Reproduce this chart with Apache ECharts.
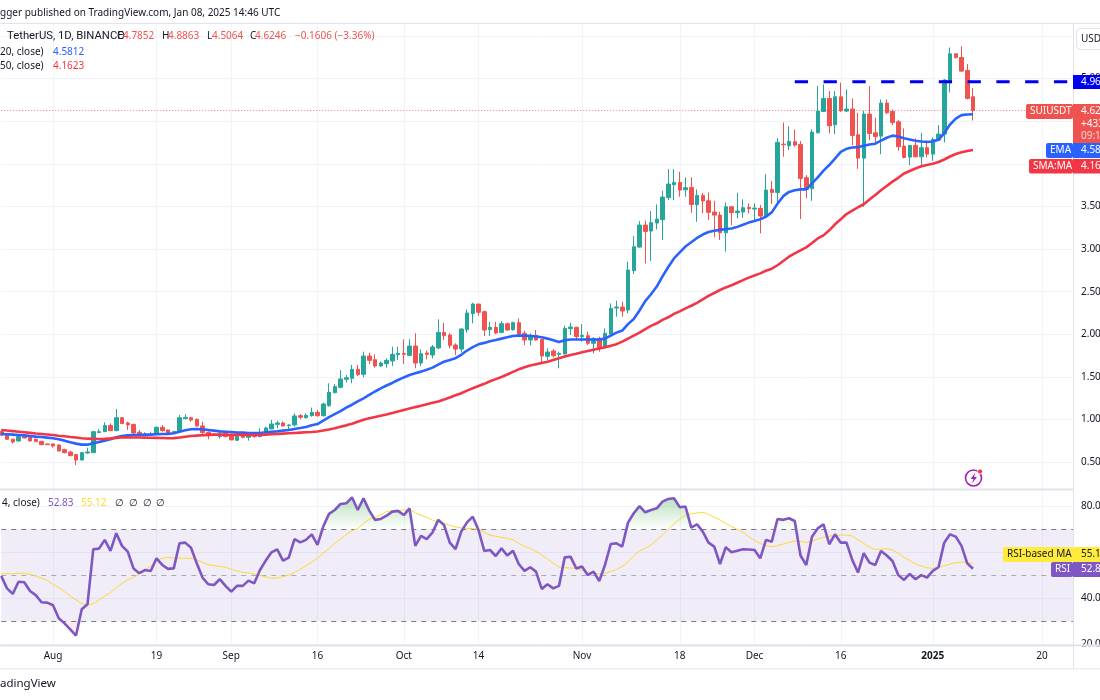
<!DOCTYPE html>
<html>
<head>
<meta charset="utf-8">
<title>SUIUSDT daily</title>
<style>html,body{margin:0;padding:0;background:#fff}#chart{width:1100px;height:700px}</style>
<script src="https://cdn.jsdelivr.net/npm/echarts@6/dist/echarts.min.js"></script>
</head>
<body>
<div id="chart"></div>
<script>
// Daily candles from 23 Jul 2024 to 8 Jan 2025
const opens = [
  .859,.820,.770,.750,.801,.793,.77,.746,.715,.715,
  .703,.648,.621,.59,.527,.609,.613,.848,.859,.93,
  .871,1.023,.961,.945,.852,.813,.828,.828,.91,.879,
  .848,.859,1.012,1.023,1.004,.926,.852,.828,.801,.84,
  .809,.758,.816,.793,.82,.801,.84,.891,.945,.961,
  .93,.938,1.047,1.023,1.047,1.086,1.047,1.164,1.316,1.379,
  1.473,1.484,1.59,1.531,1.746,1.703,1.629,1.656,1.688,1.762,
  1.777,1.754,1.863,1.664,1.781,1.758,1.84,2.023,1.992,1.875,
  1.828,2.055,2.242,2.355,2.266,2.055,2.082,2.023,2.125,2.055,
  2.137,2.012,1.934,1.988,1.941,1.742,1.805,1.766,1.77,2.066,
  2.082,1.973,1.984,1.895,1.953,1.844,2.004,2.309,2.32,2.285,
  2.746,3.023,3.281,3.211,3.305,3.344,3.602,3.754,3.781,3.695,
  3.723,3.52,3.629,3.566,3.434,3.398,3.191,3.496,3.426,3.434,
  3.488,3.469,3.477,3.387,3.699,3.664,4.23,4.211,4.258,4.227,
  3.836,3.707,4.363,4.613,4.766,4.457,4.785,4.617,4.641,4.34,
  4.066,4.582,4.363,4.324,4.711,4.613,4.492,4.207,4.078,4.215,
  4.082,4.188,4.113,4.277,4.348,4.949,5.289,5.246,5.094,4.7852
];
const closes = [
  .820,.770,.738,.801,.785,.75,.742,.707,.707,.691,
  .633,.613,.578,.527,.613,.621,.859,.859,.93,.871,
  1.023,.953,.938,.844,.82,.832,.82,.91,.871,.84,
  .859,1.023,1.027,.996,.926,.848,.813,.816,.832,.801,
  .762,.801,.793,.816,.801,.848,.902,.949,.961,.926,
  .938,1.043,1.027,1.051,1.086,1.047,1.184,1.32,1.387,1.477,
  1.492,1.59,1.527,1.746,1.695,1.629,1.664,1.695,1.766,1.777,
  1.766,1.863,1.664,1.773,1.766,1.852,2.023,1.984,1.871,1.828,
  2.063,2.25,2.355,2.258,2.051,2.082,2.016,2.125,2.051,2.137,
  2.0,1.934,1.988,1.934,1.746,1.793,1.75,1.777,2.07,2.086,
  1.973,1.988,1.895,1.953,1.836,2.012,2.305,2.32,2.273,2.754,
  3.027,3.281,3.207,3.309,3.352,3.609,3.762,3.781,3.691,3.719,
  3.523,3.629,3.563,3.43,3.398,3.191,3.496,3.426,3.445,3.484,
  3.473,3.48,3.387,3.691,3.664,4.25,4.223,4.262,4.219,3.828,
  3.699,4.371,4.617,4.766,4.445,4.785,4.621,4.641,4.332,4.066,
  4.582,4.355,4.32,4.711,4.598,4.484,4.199,4.074,4.215,4.082,
  4.188,4.113,4.285,4.348,4.98,5.289,5.246,5.086,4.766,4.6246
];
const highs = [
  .879,.840,.775,.82,.81,.80,.78,.75,.72,.72,
  .71,.66,.637,.60,.621,.672,.867,.887,.969,.957,
  1.125,1.03,.977,.95,.879,.852,.859,.92,.938,.885,
  .87,1.055,1.063,1.035,1.016,.977,.86,.835,.859,.871,
  .84,.805,.84,.84,.84,.898,.918,.996,.988,.98,
  .945,1.074,1.066,1.074,1.141,1.113,1.199,1.426,1.418,1.582,
  1.523,1.641,1.641,1.797,1.785,1.766,1.68,1.719,1.855,1.855,
  1.941,1.941,2.012,1.824,1.809,1.875,2.176,2.137,2.012,1.895,
  2.07,2.293,2.371,2.36,2.277,2.148,2.148,2.156,2.137,2.148,
  2.188,2.043,2.012,2.051,1.95,1.836,1.828,1.797,2.102,2.137,
  2.09,2.121,2.031,1.965,1.973,2.07,2.363,2.395,2.383,2.852,
  3.152,3.328,3.332,3.445,3.523,3.684,3.938,3.938,3.906,3.84,
  3.84,3.699,3.66,3.664,3.566,3.438,3.547,3.504,3.66,3.582,
  3.535,3.535,3.516,3.879,3.797,4.30,4.484,4.441,4.402,4.266,
  3.867,4.402,4.91,4.93,4.852,4.852,4.953,4.871,4.766,4.598,
  4.621,4.91,4.539,4.754,4.754,4.637,4.512,4.414,4.219,4.297,
  4.363,4.277,4.309,4.453,4.992,5.363,5.293,5.379,5.168,4.8863
];
const lows = [
  .809,.762,.719,.742,.78,.745,.74,.70,.705,.672,
  .63,.605,.57,.469,.52,.60,.61,.845,.855,.87,
  .865,.95,.879,.828,.813,.81,.816,.825,.859,.838,
  .845,.852,1.004,.977,.918,.832,.77,.81,.777,.793,
  .76,.755,.781,.754,.789,.793,.838,.887,.898,.918,
  .891,.918,1.004,1.012,1.035,1.035,1.035,1.152,1.309,1.367,
  1.434,1.426,1.512,1.496,1.652,1.609,1.621,1.609,1.629,1.699,
  1.652,1.746,1.602,1.629,1.707,1.719,1.828,1.934,1.836,1.758,
  1.789,2.02,2.129,2.219,1.98,1.98,2.004,2.012,2.043,2.043,
  1.992,1.875,1.871,1.926,1.66,1.699,1.73,1.602,1.765,1.992,
  1.941,1.914,1.875,1.777,1.797,1.836,1.992,2.207,2.207,2.246,
  2.707,3.016,2.832,2.859,3.23,3.105,3.574,3.574,3.613,3.613,
  3.426,3.32,3.418,3.34,3.137,3.105,2.969,3.281,3.359,3.367,
  3.418,3.34,3.184,3.359,3.527,3.527,4.082,4.16,4.199,3.352,
  3.594,3.566,4.355,4.609,4.355,4.348,4.609,4.609,4.219,3.941,
  3.496,4.277,4.219,4.113,4.582,4.453,4.152,4.063,3.984,4.074,
  3.957,4.074,4.035,4.27,4.25,4.836,5.234,5.078,4.754,4.5064
];
// Moving averages on the close
const ema20 = [
  .832,.828,.824,.82,.816,.809,.801,.797,.789,.781,
  .77,.754,.734,.719,.707,.707,.723,.738,.754,.77,
  .793,.809,.816,.82,.82,.824,.824,.828,.832,.832,
  .84,.859,.875,.887,.891,.887,.879,.871,.863,.859,
  .855,.848,.848,.844,.844,.844,.852,.859,.863,.871,
  .879,.891,.902,.914,.934,.949,.988,1.03,1.065,1.10,
  1.14,1.175,1.215,1.25,1.29,1.33,1.367,1.40,1.43,1.465,
  1.495,1.523,1.545,1.563,1.585,1.61,1.645,1.68,1.70,1.72,
  1.76,1.81,1.85,1.883,1.90,1.92,1.934,1.95,1.965,1.98,
  1.985,1.985,1.98,1.975,1.965,1.95,1.93,1.91,1.93,1.94,
  1.94,1.94,1.94,1.94,1.94,1.95,1.985,2.02,2.045,2.12,
  2.18,2.28,2.39,2.47,2.56,2.68,2.79,2.89,2.96,3.03,
  3.08,3.13,3.17,3.20,3.215,3.225,3.235,3.24,3.26,3.285,
  3.31,3.33,3.35,3.38,3.43,3.53,3.62,3.67,3.69,3.70,
  3.70,3.77,3.84,3.92,3.985,4.06,4.14,4.175,4.19,4.195,
  4.21,4.225,4.235,4.27,4.305,4.33,4.32,4.30,4.285,4.27,
  4.26,4.255,4.26,4.28,4.36,4.46,4.53,4.57,4.578,4.5812
];
const sma50 = [
  .879,.872,.866,.859,.852,.845,.838,.832,.826,.82,
  .812,.805,.797,.79,.782,.777,.775,.773,.775,.78,
  .786,.793,.792,.791,.79,.789,.787,.786,.784,.782,
  .783,.791,.80,.808,.813,.817,.821,.824,.824,.823,
  .822,.822,.821,.821,.82,.82,.824,.828,.832,.836,
  .84,.844,.848,.852,.856,.862,.872,.885,.90,.917,
  .933,.952,.975,.998,1.016,1.03,1.045,1.06,1.078,1.095,
  1.113,1.13,1.147,1.163,1.18,1.197,1.214,1.235,1.26,1.285,
  1.31,1.34,1.368,1.395,1.42,1.45,1.475,1.50,1.53,1.56,
  1.59,1.615,1.635,1.65,1.665,1.68,1.70,1.72,1.74,1.758,
  1.773,1.79,1.805,1.82,1.835,1.85,1.865,1.885,1.915,1.95,
  1.985,2.02,2.06,2.10,2.13,2.17,2.20,2.24,2.27,2.305,
  2.335,2.37,2.41,2.45,2.485,2.52,2.55,2.575,2.605,2.635,
  2.665,2.69,2.715,2.745,2.77,2.81,2.86,2.91,2.95,2.985,
  3.02,3.07,3.125,3.16,3.22,3.29,3.35,3.41,3.45,3.49,
  3.525,3.58,3.635,3.69,3.74,3.79,3.835,3.885,3.915,3.945,
  3.97,3.985,4.00,4.02,4.05,4.085,4.115,4.135,4.15,4.1623
];
// Momentum pane
const rsi14 = [
  49.7,44.3,41.9,47.2,47.0,43.2,41.4,38.3,38.1,37.0,
  31.3,29.1,26.5,23.8,35.2,37.4,61.3,61.6,65.4,60.6,
  68.3,62.8,60.3,53.0,50.9,52.3,51.9,57.4,54.5,52.8,
  53.0,63.9,64.2,62.0,55.2,49.0,46.1,45.8,48.3,45.4,
  42.9,45.4,45.4,47.7,46.5,52.3,56.4,60.0,61.3,56.4,
  57.7,65.7,64.3,65.4,67.8,63.2,71.2,76.7,78.4,81.0,
  81.3,83.9,78.4,83.5,78.1,74.1,74.5,75.9,77.7,78.0,
  76.2,79.1,62.8,67.1,65.7,68.6,74.1,71.9,64.2,61.4,
  69.0,73.0,75.5,69.7,60.6,61.0,58.4,61.7,58.6,60.7,
  54.9,51.9,53.5,51.6,44.1,46.1,44.3,45.4,57.8,58.1,
  53.0,53.8,50.1,51.6,47.5,54.5,63.6,63.9,62.5,72.9,
  77.0,80.1,77.4,78.4,79.1,82.0,83.2,83.5,79.6,79.9,
  70.7,72.2,69.0,64.2,62.5,54.9,62.2,60.0,60.7,61.3,
  61.2,61.0,57.4,65.4,64.6,74.5,74.1,74.8,73.6,58.6,
  54.5,66.8,70.4,72.2,63.5,67.8,64.2,64.2,56.7,51.2,
  59.6,55.5,54.5,60.6,58.6,56.2,50.1,48.0,50.6,48.3,
  50.1,49.0,51.9,53.5,64.2,67.8,66.8,62.8,55.2,52.83
];
const rsiMa = [
  50.6,50.7,50.7,50.9,50.9,50.4,49.7,48.8,47.7,46.1,
  44.6,42.9,41.0,39.3,37.8,37.1,37.7,39.3,41.0,42.5,
  44.6,46.5,48.0,49.1,50.6,52.3,54.1,56.4,57.4,57.8,
  57.5,57.4,57.4,57.4,56.7,55.7,54.6,54.2,53.9,53.5,
  52.6,51.9,51.3,51.0,50.6,50.0,49.3,48.7,48.8,49.4,
  50.1,51.3,52.6,54.1,55.7,57.4,59.6,61.7,63.9,65.7,
  67.7,69.4,70.3,72.6,74.3,75.2,76.2,77.7,78.1,78.1,
  78.4,78.7,77.2,76.1,75.2,73.9,73.2,72.6,71.7,71.0,
  70.6,70.4,70.3,70.0,68.6,67.4,67.0,66.5,66.1,65.5,
  63.9,62.6,61.7,60.4,58.8,57.0,55.2,53.6,53.3,53.2,
  53.0,52.3,51.4,50.9,50.6,50.9,51.6,52.6,53.8,55.9,
  58.4,60.6,61.7,63.2,65.4,67.5,70.0,72.3,74.3,76.2,
  76.7,77.1,77.4,76.5,75.2,74.1,72.6,71.2,70.0,68.7,
  66.8,65.1,63.9,62.9,62.5,62.9,63.6,64.3,64.9,64.8,
  64.3,64.9,65.8,66.5,67.0,67.2,67.5,67.5,67.1,65.4,
  63.9,62.2,61.3,61.3,61.6,61.0,59.6,57.8,56.4,54.9,
  54.1,53.3,53.0,53.5,54.1,54.9,55.5,55.7,55.7,55.12
];
// Time scale
const firstDay = Date.UTC(2024, 6, 23);
const dayCount = 188;
const resistanceFromDate = '2024-12-08';
const resistancePrice = 4.96;
const lastClose = 4.6246;
const timeTicks = {
  '2024-08-01': 'Aug', '2024-08-19': '19', '2024-09-01': 'Sep', '2024-09-16': '16',
  '2024-10-01': 'Oct', '2024-10-14': '14', '2024-11-01': 'Nov', '2024-11-18': '18',
  '2024-12-01': 'Dec', '2024-12-16': '16', '2025-01-01': '2025', '2025-01-20': '20'
};

const categories = [];
for (let i = 0; i < dayCount; i++) {
  categories.push(new Date(firstDay + i * 86400000).toISOString().slice(0, 10));
}
const candles = opens.map((o, i) => [o, closes[i], lows[i], highs[i]]);
const isTick = (i) => categories[i] in timeTicks;
const resistanceLine = categories.map((d) => (d >= resistanceFromDate ? resistancePrice : null));
const closeLine = categories.map(() => lastClose);
const overbought = rsi14.map((v) => Math.max(v, 70));
const oversold = rsi14.map((v) => Math.min(v, 30));

const FONT = '"Noto Sans", Roboto, sans-serif';
const FONT_SIZE = 10;
const INK = '#131722';
const GRID = '#f0f3fa';
const RULE = '#e0e3eb';
const UP = '#26a69a';
const DOWN = '#ef5350';
const BLUE = '#2962ff';
const RED = '#f23645';
const PURPLE = '#7e57c2';
const YELLOW = '#ffeb3b';

const rect = (x, y, w, h, fill, extra) => ({
  type: 'rect', silent: true, z: (extra && extra.z) || 30,
  shape: { x, y, width: w, height: h, r: (extra && extra.r) || 0 },
  style: Object.assign({ fill }, extra && extra.style)
});
const text = (x, y, str, fill, extra) => ({
  type: 'text', silent: true, z: 40, x, y,
  style: Object.assign({ text: str, fill, font: FONT_SIZE + 'px ' + FONT, textVerticalAlign: 'middle' }, extra)
});

const chart = echarts.init(document.getElementById('chart'), null, { renderer: 'canvas' });

const graphics = [
  // mask for anything running past the panes, below the scale labels
  rect(1073, 0, 27, 700, '#fff', { z: 10 }),
  rect(0, 0, 1100, 23, '#fff', { z: 10 }),
  // pane rules
  rect(0, 23, 1100, 1, RULE),
  rect(0, 488.5, 1073, 2, RULE),
  rect(0, 644.5, 1100, 2, RULE),
  rect(0, 668, 1100, 1.5, '#eceef3'),
  rect(1073, 23, 1, 646, RULE),
  // header legend
  text(0, 13, 'gger published on TradingView.com, Jan 08, 2025 14:46 UTC', INK),
  text(7, 36, 'TetherUS, 1D, BINANCE', INK, { font: '11.3px Roboto, sans-serif' }),
  text(117, 36, 'O', INK), text(123, 36, '4.7852', DOWN),
  text(162, 36, 'H', INK), text(168, 36, '4.8863', DOWN),
  text(207, 36, 'L', INK), text(212, 36, '4.5064', DOWN),
  text(250, 36, 'C', INK), text(255, 36, '4.6246', DOWN),
  text(295, 36, '\u22120.1606 (\u22123.36%)', DOWN),
  text(0, 52, '20, close)', INK), text(53, 52, '4.5812', BLUE),
  text(0, 66, '50, close)', INK), text(53, 66, '4.1623', RED),
  // momentum legend
  text(2, 503, '4, close)', INK), text(48, 503, '52.83', PURPLE), text(81, 503, '55.12', '#fdd835'),
  text(115, 503, '\u2205', INK), text(129, 503, '\u2205', INK), text(143, 503, '\u2205', INK), text(156, 503, '\u2205', INK),
  text(0, 684, 'adingView', INK, { font: '11.5px ' + FONT }),
  // currency button
  rect(1076.5, 28.5, 40, 21, '#fff', { r: 4, style: { stroke: RULE, lineWidth: 1 } }),
  text(1081, 39, 'USD', INK),
  // price scale tags
  rect(1073, 75, 27, 14, '#0000f0'),
  text(1081, 82, '4.96', '#fff'),
  rect(1026, 104, 47, 15, DOWN, { r: 2 }),
  text(1030, 111.5, 'SUIUSDT', '#fff'),
  rect(1073, 104, 27, 39, DOWN),
  text(1081, 111.5, '4.62', '#fff'),
  text(1081, 124, '+433', '#fff'),
  text(1081, 136, '09:1', '#fff', { opacity: 0.75 }),
  rect(1046, 143, 27, 15, BLUE, { r: 2 }),
  text(1050, 150.5, 'EMA', '#fff'),
  rect(1073, 143, 27, 15, BLUE),
  text(1081, 150.5, '4.58', '#fff'),
  rect(1029, 159, 44, 14.5, RED, { r: 2 }),
  text(1033, 166, 'SMA:MA', '#fff'),
  rect(1073, 159, 27, 14.5, RED),
  text(1081, 166, '4.16', '#fff'),
  // momentum scale tags
  rect(1003, 547, 70, 15, YELLOW, { r: 2 }),
  text(1007, 554.5, 'RSI-based MA', INK),
  rect(1073, 547, 27, 15, YELLOW),
  text(1081, 554.5, '55.1', INK),
  rect(1051, 562, 22, 15, PURPLE, { r: 2 }),
  text(1055, 569.5, 'RSI', '#fff'),
  rect(1073, 562, 27, 15, PURPLE),
  text(1081, 569.5, '52.8', '#fff'),
  // bottom of the momentum scale
  rect(1074, 646.5, 26, 21, '#fff'),
  // ideas badge
  { type: 'circle', silent: true, z: 30, shape: { cx: 973.5, cy: 478, r: 8 }, style: { fill: 'none', stroke: '#9c27b0', lineWidth: 1.6 } },
  { type: 'polygon', silent: true, z: 31, shape: { points: [[975.5, 472.5], [970.5, 479], [973.5, 479], [972, 483.5], [977, 477], [974, 477]] }, style: { fill: '#9c27b0' } },
  { type: 'circle', silent: true, z: 32, shape: { cx: 980, cy: 471.5, r: 2.5 }, style: { fill: '#f23645', stroke: '#fff', lineWidth: 0.8 } }
];

// Each pane carries two value axes with one scale: the first draws gridlines under the marks,
// the second draws the labels above the scale's background.
const gridAxis = (g, min, max, interval) => ({
  type: 'value', gridIndex: g, position: 'right', min, max, interval, z: 0,
  axisLine: { show: false }, axisTick: { show: false }, axisLabel: { show: false },
  splitLine: { show: true, showMinLine: g === 1, showMaxLine: false, lineStyle: { color: GRID, width: 1 } }
});
const labelAxis = (g, min, max, interval) => ({
  type: 'value', gridIndex: g, position: 'right', min, max, interval, z: 20,
  axisLine: { show: false }, axisTick: { show: false }, splitLine: { show: false },
  axisLabel: {
    margin: 4.5, color: INK, fontSize: FONT_SIZE, fontFamily: FONT,
    formatter: (v) => {
      if (g === 0) return v > 0 && v < 6 ? v.toFixed(2) : '';
      return v < 100 ? v.toFixed(2) : '';
    }
  }
});

chart.setOption({
  animation: false,
  backgroundColor: '#fff',
  textStyle: { fontFamily: FONT },
  grid: [
    { left: 1.25, width: 1075.25, top: -6.85, height: 511.8, outerBoundsMode: 'none', containLabel: false },
    { left: 1.25, width: 1075.25, top: 460.3, height: 184, outerBoundsMode: 'none', containLabel: false }
  ],
  xAxis: [0, 1].map((g) => ({
    type: 'category',
    gridIndex: g,
    data: categories,
    boundaryGap: false,
    axisLine: { show: false },
    axisTick: { show: false },
    axisLabel: g === 0 ? { show: false } : {
      interval: (i) => isTick(i),
      formatter: (v) => (v === '2025-01-01' ? '{b|2025}' : timeTicks[v] || ''),
      color: INK, fontSize: FONT_SIZE, margin: 7, fontFamily: FONT,
      rich: { b: { fontWeight: 'bold', fontSize: FONT_SIZE, fontFamily: FONT, color: INK } }
    },
    splitLine: { show: true, interval: (i) => isTick(i), lineStyle: { color: GRID, width: 1 } }
  })),
  yAxis: [
    gridAxis(0, 0, 6, 0.5),
    gridAxis(1, 20, 100, 20),
    labelAxis(0, 0, 6, 0.5),
    labelAxis(1, 20, 100, 20)
  ],
  series: [
    {
      name: 'Last close', type: 'line', xAxisIndex: 0, yAxisIndex: 0, z: 1,
      data: closeLine, showSymbol: false, silent: true,
      lineStyle: { color: DOWN, width: 1, type: [1, 2], opacity: 0.8 }
    },
    {
      name: 'SUIUSDT', type: 'candlestick', xAxisIndex: 0, yAxisIndex: 0, z: 2,
      data: candles, barWidth: 4,
      itemStyle: { color: UP, color0: DOWN, borderColor: UP, borderColor0: DOWN, borderWidth: 1 }
    },
    {
      name: 'EMA 20', type: 'line', xAxisIndex: 0, yAxisIndex: 0, z: 3,
      data: ema20, showSymbol: false, lineStyle: { color: BLUE, width: 2.6 }
    },
    {
      name: 'SMA 50', type: 'line', xAxisIndex: 0, yAxisIndex: 0, z: 3,
      data: sma50, showSymbol: false, lineStyle: { color: RED, width: 2.6 }
    },
    {
      name: 'Resistance', type: 'line', xAxisIndex: 0, yAxisIndex: 0, z: 4,
      data: resistanceLine, showSymbol: false, silent: true,
      lineStyle: { color: '#0000f0', width: 3, type: [13.3, 15.5] }
    },
    {
      name: 'Overbought fill', type: 'line', xAxisIndex: 1, yAxisIndex: 1, z: 2,
      data: overbought, showSymbol: false, silent: true, lineStyle: { width: 0 },
      areaStyle: {
        origin: 70, opacity: 1,
        color: new echarts.graphic.LinearGradient(0, 497, 0, 530, [
          { offset: 0, color: 'rgba(76,175,80,0.38)' },
          { offset: 1, color: 'rgba(76,175,80,0)' }
        ], true)
      }
    },
    {
      name: 'Oversold fill', type: 'line', xAxisIndex: 1, yAxisIndex: 1, z: 2,
      data: oversold, showSymbol: false, silent: true, lineStyle: { width: 0 },
      areaStyle: { origin: 30, opacity: 1, color: 'rgba(242,54,69,0.1)' }
    },
    {
      name: 'RSI-based MA', type: 'line', xAxisIndex: 1, yAxisIndex: 1, z: 3,
      data: rsiMa, showSymbol: false, lineStyle: { color: '#fdd835', width: 1 }
    },
    {
      name: 'RSI', type: 'line', xAxisIndex: 1, yAxisIndex: 1, z: 4,
      data: rsi14, showSymbol: false, lineStyle: { color: PURPLE, width: 2.6 },
      markArea: {
        silent: true, z: 1,
        itemStyle: { color: 'rgba(126,87,194,0.11)' },
        data: [[{ yAxis: 30 }, { yAxis: 70 }]]
      },
      markLine: {
        silent: true, symbol: 'none', z: 2,
        label: { show: false },
        data: [
          { yAxis: 70, lineStyle: { color: '#787b86', type: [5, 5], width: 1 } },
          { yAxis: 50, lineStyle: { color: 'rgba(120,123,134,0.6)', type: [5, 5], width: 1 } },
          { yAxis: 30, lineStyle: { color: '#787b86', type: [5, 5], width: 1 } }
        ]
      }
    }
  ],
  graphic: { elements: graphics }
});
</script>
</body>
</html>
